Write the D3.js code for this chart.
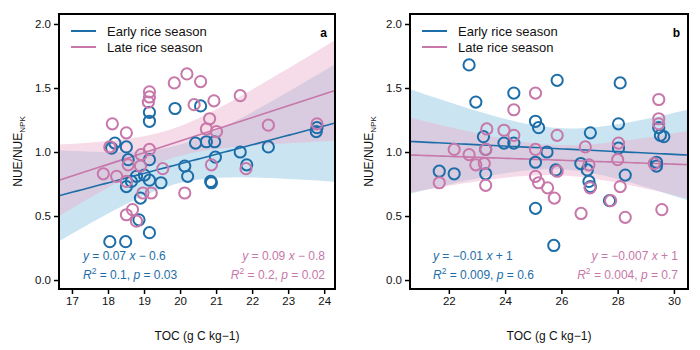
<!DOCTYPE html>
<html>
<head>
<meta charset="utf-8">
<script src="https://cdn.jsdelivr.net/npm/d3@7"></script>
<style>
  body { margin: 0; background: #fff; }
  svg text { font-family: "Liberation Sans", Arial, sans-serif; }
</style>
</head>
<body>
<div id="chart"></div>
<script>
// panel a: TOC 17-24, [TOC, NUE/NUE_NPK]
const aEarly = [
  [18.05, 0.30], [18.49, 0.30], [19.15, 0.37], [18.86, 0.47], [18.90, 0.64],
  [19.15, 1.31], [19.15, 1.24], [19.86, 1.34], [20.57, 1.36], [18.19, 1.07],
  [18.10, 1.03], [18.51, 1.04], [18.56, 0.94], [19.15, 0.94], [19.01, 0.82],
  [18.79, 0.81], [18.65, 0.77], [18.51, 0.73], [19.15, 0.78], [19.47, 0.76],
  [20.13, 0.89], [20.21, 0.81], [20.43, 1.07], [20.73, 1.08], [20.96, 1.08],
  [20.85, 0.77], [20.87, 0.76], [20.98, 0.96], [21.67, 1.00], [21.85, 0.90],
  [22.45, 1.04], [23.78, 1.16], [23.80, 1.19]
];
const aLate = [
  [20.19, 1.61], [19.84, 1.54], [20.57, 1.55], [19.15, 1.47], [19.15, 1.43],
  [19.12, 1.39], [20.39, 1.37], [20.94, 1.40], [21.67, 1.44], [18.12, 1.22],
  [18.51, 1.15], [20.82, 1.26], [20.73, 1.18], [21.01, 1.16], [18.05, 1.04],
  [19.15, 1.02], [18.92, 0.98], [18.56, 0.90], [18.90, 0.89], [19.52, 0.87],
  [17.87, 0.83], [18.24, 0.81], [18.51, 0.77], [20.87, 0.90], [21.83, 0.87],
  [18.97, 0.68], [19.20, 0.68], [20.13, 0.68], [18.68, 0.55], [18.51, 0.51],
  [18.79, 0.46], [22.45, 1.21], [23.80, 1.22]
];
// panel b: TOC 22-30
const bEarly = [
  [22.72, 1.68], [22.96, 1.39], [24.31, 1.46], [25.85, 1.56], [28.09, 1.54],
  [23.23, 1.12], [23.31, 1.02], [23.96, 1.07], [24.31, 1.07], [25.08, 1.24],
  [25.19, 1.19], [25.49, 1.00], [27.03, 1.15], [28.03, 1.22], [28.03, 1.03],
  [29.46, 1.19], [29.52, 1.13], [29.64, 1.12], [21.66, 0.85], [22.19, 0.83],
  [23.31, 0.83], [25.08, 0.92], [25.80, 0.86], [25.08, 0.56], [25.73, 0.27],
  [26.69, 0.91], [26.92, 0.86], [26.98, 0.77], [27.03, 0.73], [27.71, 0.62],
  [28.27, 0.82], [29.38, 0.89], [29.38, 0.92]
];
const bLate = [
  [25.08, 1.46], [24.31, 1.33], [29.46, 1.41], [29.46, 1.26], [29.46, 1.22],
  [23.35, 1.18], [23.96, 1.17], [24.31, 1.13], [25.85, 1.13], [22.19, 1.02],
  [22.72, 0.98], [23.31, 1.02], [25.08, 1.02], [26.85, 1.04], [28.03, 1.07],
  [22.96, 0.90], [23.26, 0.91], [21.66, 0.76], [23.31, 0.74], [25.08, 0.81],
  [25.19, 0.76], [25.51, 0.72], [25.75, 0.64], [25.85, 0.85], [26.98, 0.90],
  [27.02, 0.72], [26.70, 0.52], [28.00, 0.94], [28.09, 0.73], [28.27, 0.49],
  [29.30, 0.91], [29.57, 0.55], [27.75, 0.62]
];

const aTicks = [17, 18, 19, 20, 21, 22, 23, 24];
const bTicks = [22, 24, 26, 28, 30];
const yTicks = [0, 0.5, 1, 1.5, 2];
const seasons = ["Early rice season", "Late rice season"];
const aEq = [["0.07", "\u2212", "0.6", "0.1", "0.03"], ["0.09", "\u2212", "0.8", "0.2", "0.02"]];
const bEq = [["\u22120.01", "+", "1", "0.009", "0.6"], ["\u22120.007", "+", "1", "0.004", "0.7"]];

const colors = ["#1d6ea8", "#c777a9"];
const bandFill = ["#8cc4e0", "#eab0cc"];

const W = 700, H = 350;
const svg = d3.select("#chart").append("svg").attr("width", W).attr("height", H);

function fit(pts, k) {
  const n = pts.length;
  const mx = d3.mean(pts, d => d[0]), my = d3.mean(pts, d => d[1]);
  const sxx = d3.sum(pts, d => (d[0] - mx) ** 2);
  const sxy = d3.sum(pts, d => (d[0] - mx) * (d[1] - my));
  const b = sxy / sxx, a = my - b * mx;
  const sse = d3.sum(pts, d => (d[1] - a - b * d[0]) ** 2);
  const s = Math.sqrt(sse / (n - 2));
  const df = n - 2, z = 1.96;
  const t = z + (z ** 3 + z) / (4 * df) + (5 * z ** 5 + 16 * z ** 3 + 3 * z) / (96 * df * df);
  return x => {
    const yh = a + b * x;
    const se = k * t * s * Math.sqrt(1 / n + (x - mx) ** 2 / sxx);
    return { x, y: yh, lo: yh - se, hi: yh + se };
  };
}

function drawPanel(o) {
  const x = d3.scaleLinear().domain(o.xDomain).range([o.left, o.right]);
  const y = d3.scaleLinear().domain([-0.07, 2.078]).range([o.bottom, o.top]);
  const g = svg.append("g");

  const clipId = "clip" + o.tag;
  g.append("clipPath").attr("id", clipId).append("rect")
    .attr("x", o.left).attr("y", o.top).attr("width", o.right - o.left).attr("height", o.bottom - o.top);
  const plot = g.append("g").attr("clip-path", `url(#${clipId})`);

  const series = [o.early, o.late];
  const xs = d3.range(0, 61).map(i => o.xDomain[0] + (o.xDomain[1] - o.xDomain[0]) * i / 60);
  const fits = series.map((s, i) => { const f = fit(s, o.band[i]); return xs.map(f); });

  fits.forEach((f, i) => {
    plot.append("path")
      .attr("d", d3.area().x(d => x(d.x)).y0(d => y(d.lo)).y1(d => y(d.hi))(f))
      .attr("fill", bandFill[i]).attr("fill-opacity", 0.45);
  });
  fits.forEach((f, i) => {
    plot.append("path")
      .attr("d", d3.line().x(d => x(d.x)).y(d => y(d.y))(f))
      .attr("fill", "none").attr("stroke", colors[i]).attr("stroke-width", 1.6);
  });
  series.forEach((s, i) => {
    plot.selectAll(null).data(s).enter().append("circle")
      .attr("cx", d => x(d[0])).attr("cy", d => y(d[1])).attr("r", 5.6)
      .attr("fill", "none").attr("stroke", colors[i]).attr("stroke-width", 2);
  });

  // axes
  const xa = g.append("g").attr("transform", `translate(0,${o.bottom})`)
    .call(d3.axisBottom(x).tickValues(o.ticks).tickSize(5).tickPadding(3).tickFormat(d3.format("d")));
  const ya = g.append("g").attr("transform", `translate(${o.left},0)`)
    .call(d3.axisLeft(y).tickValues(yTicks).tickSize(5).tickPadding(3).tickFormat(d3.format(".1f")));
  [xa, ya].forEach(a => {
    a.select(".domain").remove();
    a.selectAll("line").attr("stroke", "#000").attr("stroke-width", 1.5);
    a.selectAll("text").attr("fill", "#111").style("font-size", "11.5px");
  });

  g.append("rect").attr("x", o.left).attr("y", o.top)
    .attr("width", o.right - o.left).attr("height", o.bottom - o.top)
    .attr("fill", "none").attr("stroke", "#000").attr("stroke-width", 2);

  // axis titles
  g.append("text").attr("x", (o.left + o.right) / 2).attr("y", 340)
    .attr("text-anchor", "middle").style("font-size", "12px").attr("fill", "#111")
    .text("TOC (g C kg\u22121)");
  const yl = g.append("text").attr("transform", `translate(${o.left - 37},${(o.top + o.bottom) / 2}) rotate(-90)`)
    .attr("text-anchor", "middle").style("font-size", "12px").attr("fill", "#111");
  yl.append("tspan").text("NUE/NUE");
  yl.append("tspan").attr("dy", 3).style("font-size", "8px").text("NPK");

  // legend
  seasons.forEach((s, i) => {
    const ly = o.top + 17 + i * 16;
    g.append("line").attr("x1", o.left + 12).attr("x2", o.left + 37).attr("y1", ly).attr("y2", ly)
      .attr("stroke", colors[i]).attr("stroke-width", 2);
    g.append("text").attr("x", o.left + 48).attr("y", ly + 4.5).style("font-size", "13px")
      .attr("fill", "#111").text(s);
  });
  g.append("text").attr("x", o.right - 8).attr("y", o.top + 23).attr("text-anchor", "end")
    .style("font-size", "12px").style("font-weight", "bold").text(o.tag);

  // equations
  o.eq.forEach((e, i) => {
    const anchorX = i === 0 ? o.left + o.eqLeft : o.right - 10;
    const anchor = i === 0 ? "start" : "end";
    const t1 = g.append("text").attr("x", anchorX).attr("y", 260).attr("text-anchor", anchor)
      .style("font-size", "12px").attr("fill", colors[i]);
    t1.append("tspan").style("font-style", "italic").text("y");
    t1.append("tspan").text(` = ${e[0]} `);
    t1.append("tspan").style("font-style", "italic").text("x");
    t1.append("tspan").text(` ${e[1]} ${e[2]}`);
    const t2 = g.append("text").attr("x", anchorX).attr("y", 279).attr("text-anchor", anchor)
      .style("font-size", "12px").attr("fill", colors[i]);
    t2.append("tspan").style("font-style", "italic").text("R");
    t2.append("tspan").attr("dy", -5).style("font-size", "8.5px").text("2");
    t2.append("tspan").attr("dy", 5).text(` = ${e[3]},  `);
    t2.append("tspan").style("font-style", "italic").text("p");
    t2.append("tspan").text(` = ${e[4]}`);
  });
}

// band: widening of each ribbon, matched by eye to the original
drawPanel({ tag: "a", left: 59, right: 335, top: 14, bottom: 289, xDomain: [16.64, 24.3],
  ticks: aTicks, early: aEarly, late: aLate, eq: aEq, eqLeft: 24, band: [1.65, 1.05] });
drawPanel({ tag: "b", left: 410, right: 688, top: 14, bottom: 289, xDomain: [20.62, 30.5],
  ticks: bTicks, early: bEarly, late: bLate, eq: bEq, eqLeft: 23, band: [1.5, 1.3] });
</script>
</body>
</html>
